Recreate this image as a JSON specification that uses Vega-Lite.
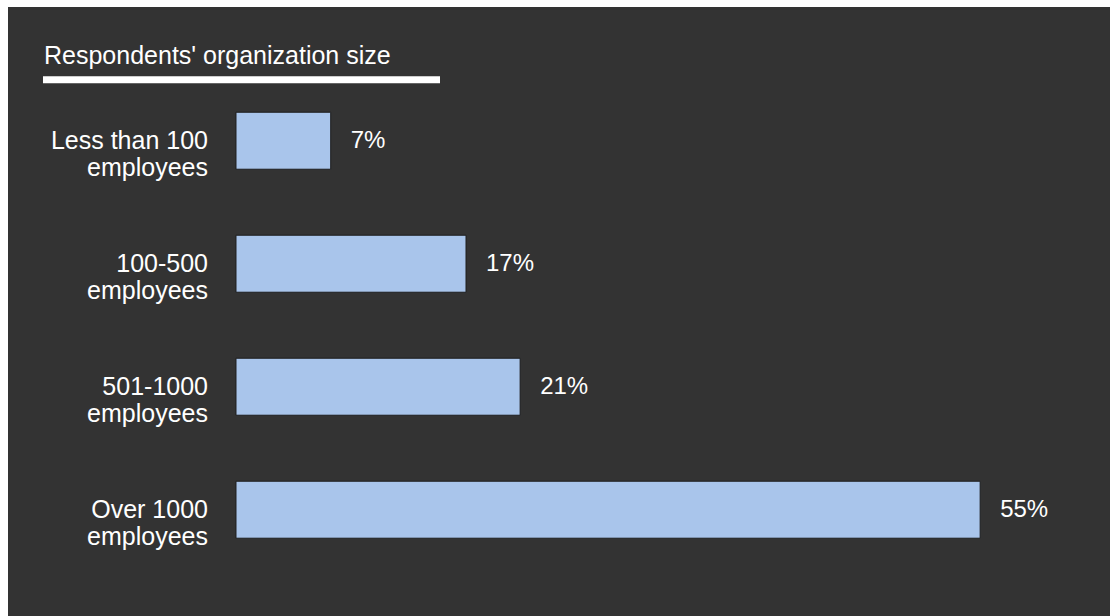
{
  "$schema": "https://vega.github.io/schema/vega-lite/v6.json",
  "width": 1102,
  "height": 609,
  "autosize": {"type": "none"},
  "padding": {"left": 8, "top": 7, "right": 0, "bottom": 0},
  "background": "#ffffff",
  "config": {"view": {"fill": "#333333", "stroke": null}, "font": "Liberation Sans"},
  "title": {"text": "Respondents' organization size", "anchor": "start", "frame": "group", "orient": "top", "offset": -82, "baseline": "alphabetic", "dx": 36, "color": "#ffffff", "fontSize": 25, "fontWeight": "normal", "font": "Liberation Sans"},
  "data": {"values": [
    {"size": "Less than 100\nemployees", "pct": 7, "label": "7%"},
    {"size": "100-500\nemployees", "pct": 17, "label": "17%"},
    {"size": "501-1000\nemployees", "pct": 21, "label": "21%"},
    {"size": "Over 1000\nemployees", "pct": 55, "label": "55%"}
  ]},
  "encoding": {
    "y": {"field": "size", "type": "nominal", "sort": null, "scale": {"paddingInner": 0.5366, "paddingOuter": 0.744, "align": 0.575}, "axis": null}
  },
  "layer": [
    {
      "mark": {"type": "bar", "fill": "#a9c5eb", "stroke": "#1e1e1e", "strokeWidth": 1},
      "encoding": {
        "x": {"field": "pct", "type": "quantitative", "scale": {"domain": [-16.851, 64.597], "zero": false, "nice": false}, "axis": null},
        "x2": {"datum": 0}
      }
    },
    {
      "mark": {"type": "text", "align": "left", "baseline": "middle", "dx": 20, "fontSize": 24, "color": "#ffffff"},
      "encoding": {
        "x": {"field": "pct", "type": "quantitative"},
        "text": {"field": "label"}
      }
    },
    {
      "mark": {"type": "text", "align": "right", "baseline": "middle", "dx": -28, "fontSize": 25, "lineHeight": 27, "lineBreak": "\n", "color": "#ffffff"},
      "encoding": {
        "x": {"datum": 0},
        "text": {"field": "size"}
      }
    },
    {
      "data": {"values": [{}]},
      "mark": {"type": "rule", "color": "#ffffff", "strokeWidth": 7, "yOffset": -61},
      "encoding": {
        "x": {"datum": -14.265},
        "x2": {"datum": 15.078},
        "y": {"datum": "Less than 100\nemployees"}
      }
    }
  ]
}
